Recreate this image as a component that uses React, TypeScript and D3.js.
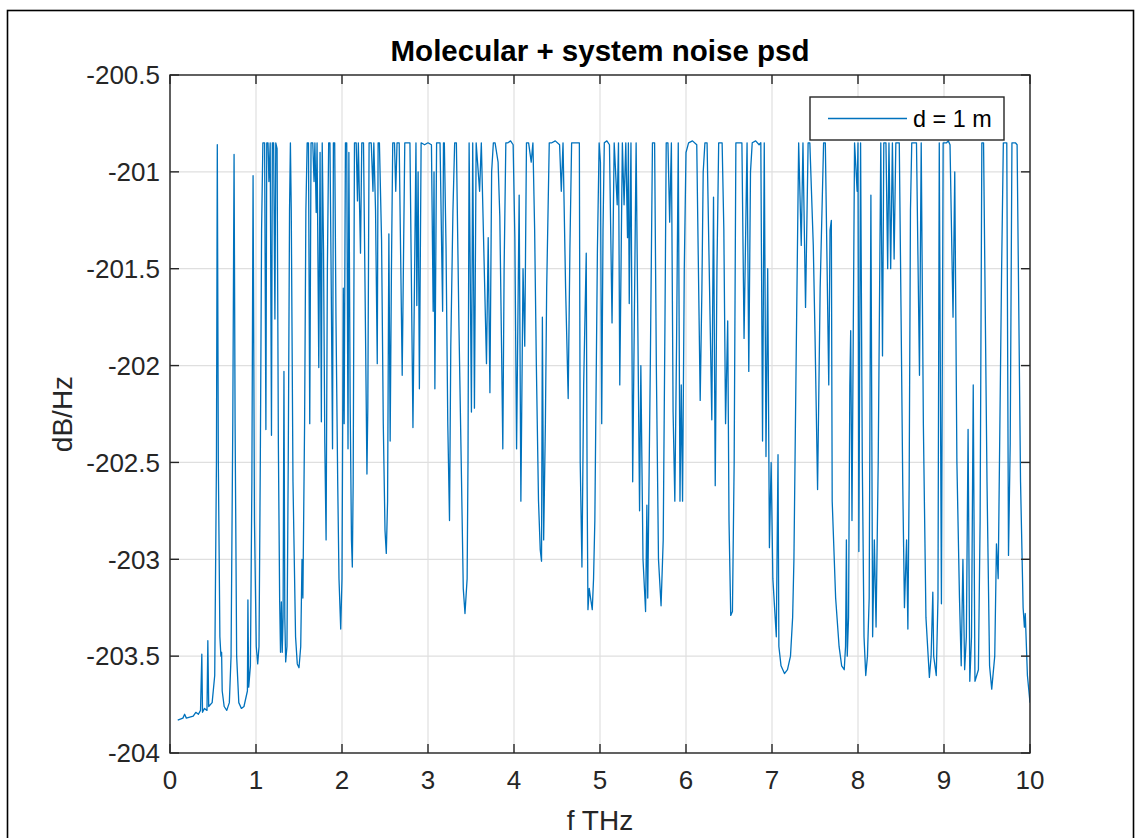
import React from "react";
import * as d3 from "d3";

const chartTitle = "Molecular + system noise psd";
const xLabel = "f THz";
const yLabel = "dB/Hz";
const legendLabel = "d = 1 m";
const xTicks = [0, 1, 2, 3, 4, 5, 6, 7, 8, 9, 10];
const yTicks = [-204, -203.5, -203, -202.5, -202, -201.5, -201, -200.5];

// [frequency THz, psd dB/Hz]
const psdPoints: [number, number][] = [
  [0.09,-203.83],[0.15,-203.82],[0.17,-203.8],[0.19,-203.82],[0.27,-203.81],[0.3,-203.79],[0.33,-203.8],[0.355,-203.78],[0.37,-203.49],[0.378,-203.79],[0.4,-203.77],[0.43,-203.78],[0.44,-203.42],[0.45,-203.76],[0.49,-203.74],[0.52,-203.6],[0.54,-202.5],[0.55,-200.86],[0.562,-202.5],[0.58,-203.4],[0.592,-203.5],[0.6,-203.48],[0.607,-203.68],[0.63,-203.76],[0.66,-203.78],[0.69,-203.74],[0.71,-203.5],[0.73,-202.3],[0.745,-200.91],[0.757,-202.3],[0.775,-203.5],[0.8,-203.74],[0.83,-203.77],[0.86,-203.76],[0.88,-203.72],[0.9,-203.68],[0.906,-203.21],[0.915,-203.66],[0.935,-203.55],[0.952,-202.6],[0.966,-201.02],[0.982,-202.8],[1.003,-203.45],[1.02,-203.54],[1.035,-203.45],[1.05,-202.5],[1.065,-201.3],[1.08,-200.85],
  [1.1,-200.85],[1.115,-202.33],[1.125,-200.85],[1.14,-200.85],[1.15,-201.05],[1.165,-200.85],[1.18,-202.36],[1.19,-200.85],[1.205,-200.85],[1.22,-201.76],[1.23,-200.85],[1.245,-200.88],[1.26,-202.4],[1.275,-203.21],[1.285,-203.48],[1.295,-203.22],[1.305,-203.48],[1.315,-203.3],[1.325,-202.03],[1.335,-203.3],[1.345,-203.53],[1.36,-203.45],[1.375,-202.5],[1.39,-201.2],[1.4,-200.85],[1.41,-201.2],[1.43,-202.6],[1.46,-203.4],[1.48,-203.54],[1.5,-203.56],[1.52,-203.45],[1.535,-203.0],[1.545,-203.2],[1.565,-202.3],[1.58,-201.2],[1.595,-200.85],
  [1.61,-200.85],[1.625,-202.3],[1.64,-200.85],[1.66,-200.85],[1.675,-201.05],[1.685,-200.85],[1.7,-201.21],[1.71,-200.85],[1.73,-202.01],[1.745,-200.9],[1.76,-202.29],[1.77,-200.85],[1.785,-201.4],[1.8,-202.4],[1.815,-202.9],[1.83,-201.5],[1.845,-200.85],[1.86,-200.85],[1.875,-201.6],[1.89,-202.43],[1.9,-200.85],[1.915,-200.85],[1.93,-201.76],[1.95,-202.6],[1.965,-203.1],[1.985,-203.36],[2.0,-203.1],[2.015,-201.6],[2.025,-202.3],[2.04,-200.85],[2.055,-200.85],[2.07,-202.43],[2.08,-200.9],[2.095,-202.2],[2.11,-202.9],[2.12,-203.04],[2.13,-202.6],[2.145,-200.85],[2.165,-200.85],[2.18,-201.15],[2.19,-200.85],[2.215,-201.42],[2.23,-200.85],[2.25,-200.85],[2.275,-201.9],[2.29,-202.56],[2.3,-202.22],[2.315,-200.85],[2.34,-200.85],[2.36,-201.1],[2.37,-200.85],[2.39,-201.2],[2.41,-201.99],[2.42,-200.85],[2.435,-200.85],[2.46,-201.35],[2.48,-202.3],[2.5,-202.85],[2.515,-202.97],[2.53,-202.7],[2.545,-201.32],[2.56,-202.39],[2.575,-201.5],[2.59,-200.85],[2.61,-200.85],[2.625,-201.1],[2.64,-200.85],[2.665,-200.85],[2.7,-202.05],[2.73,-200.85],[2.75,-200.85],[2.79,-200.85],[2.825,-202.32],[2.86,-200.85],[2.87,-201.69],[2.885,-201.0],[2.9,-202.12],[2.92,-200.85],
  [2.96,-200.86],[3.0,-200.85],[3.04,-200.86],[3.06,-201.72],[3.07,-201.0],[3.08,-202.12],[3.1,-200.85],[3.14,-200.85],[3.17,-201.72],[3.18,-200.85],[3.19,-200.85],[3.21,-201.4],[3.23,-202.3],[3.25,-202.8],[3.265,-201.9],[3.29,-201.2],[3.31,-200.85],[3.33,-200.85],[3.36,-201.8],[3.39,-202.6],[3.41,-203.15],[3.43,-203.28],[3.455,-203.1],[3.465,-202.5],[3.478,-200.85],[3.505,-202.24],[3.52,-200.85],[3.54,-202.22],[3.56,-200.85],[3.6,-201.1],[3.62,-200.85],[3.68,-201.99],[3.7,-201.34],[3.72,-202.14],[3.74,-201.0],[3.76,-200.85],[3.78,-200.85],[3.815,-200.95],[3.835,-201.23],[3.855,-201.9],[3.87,-202.43],[3.885,-201.5],[3.905,-200.85],[3.93,-200.85],[3.96,-200.84],[3.99,-200.86],[4.01,-201.34],[4.03,-202.43],[4.06,-201.12],[4.08,-202.7],[4.105,-201.5],[4.125,-201.9],[4.145,-200.85],[4.17,-200.85],[4.2,-200.95],[4.22,-200.85],[4.24,-201.3],[4.26,-202.0],[4.285,-202.7],[4.305,-202.95],[4.32,-203.01],[4.33,-201.75],[4.345,-202.9],[4.365,-202.3],[4.38,-201.6],[4.41,-200.85],[4.44,-200.85],[4.48,-200.84],[4.53,-200.86],[4.55,-201.1],[4.57,-200.85],[4.6,-201.6],[4.63,-202.17],[4.65,-201.4],[4.67,-200.85],[4.71,-200.85],[4.76,-200.85],[4.77,-202.5],[4.79,-203.04],[4.81,-202.1],[4.84,-201.42],[4.85,-202.6],[4.86,-203.26],[4.875,-203.15],[4.89,-203.2],[4.91,-203.26],[4.925,-203.1],[4.94,-202.8],[4.97,-201.4],[4.99,-200.85],
  [5.005,-200.95],[5.02,-202.3],[5.035,-201.3],[5.05,-200.85],[5.08,-200.84],[5.11,-200.86],[5.14,-201.78],[5.165,-200.85],[5.2,-201.17],[5.215,-200.85],[5.23,-202.1],[5.26,-200.85],[5.28,-201.17],[5.3,-200.85],[5.32,-201.34],[5.33,-200.85],[5.34,-201.68],[5.36,-200.85],[5.38,-202.6],[5.42,-200.85],[5.46,-202.75],[5.475,-202.0],[5.5,-203.0],[5.53,-203.27],[5.545,-202.72],[5.555,-203.2],[5.585,-202.0],[5.61,-200.85],[5.635,-200.85],[5.655,-202.0],[5.68,-203.0],[5.71,-203.24],[5.735,-202.9],[5.755,-201.8],[5.77,-200.85],[5.79,-200.85],[5.81,-201.26],[5.83,-200.85],[5.85,-202.24],[5.87,-202.7],[5.89,-201.9],[5.91,-200.85],[5.93,-202.7],[5.945,-202.1],[5.96,-202.7],[5.98,-201.5],[6.0,-200.9],[6.03,-200.85],[6.075,-200.84],[6.125,-200.86],[6.165,-202.18],[6.185,-201.6],[6.2,-201.0],[6.22,-200.85],[6.245,-200.85],[6.3,-202.28],[6.32,-201.13],[6.34,-202.62],[6.36,-201.5],[6.38,-200.85],[6.42,-200.85],[6.44,-201.3],[6.46,-202.3],[6.485,-201.77],[6.5,-202.8],[6.52,-203.29],[6.54,-203.27],[6.56,-202.5],[6.58,-200.85],[6.62,-200.85],[6.65,-200.85],[6.675,-201.86],[6.71,-200.85],[6.73,-202.03],[6.75,-201.0],[6.77,-200.85],[6.81,-200.84],[6.85,-200.86],[6.87,-200.85],[6.89,-202.39],[6.91,-200.85],[6.93,-202.47],[6.95,-201.5],[6.97,-202.94],[6.99,-202.5],
  [7.01,-203.1],[7.05,-203.4],[7.07,-202.46],[7.08,-203.45],[7.105,-203.55],[7.145,-203.59],[7.18,-203.57],[7.215,-203.5],[7.24,-203.3],[7.255,-203.0],[7.28,-202.0],[7.31,-200.85],[7.34,-201.38],[7.36,-200.85],[7.39,-201.7],[7.42,-200.85],[7.44,-200.85],[7.48,-201.38],[7.5,-201.84],[7.53,-202.64],[7.56,-201.6],[7.6,-200.85],[7.62,-200.85],[7.66,-202.1],[7.675,-201.3],[7.69,-201.25],[7.7,-202.7],[7.74,-203.2],[7.78,-203.45],[7.81,-203.55],[7.84,-203.57],[7.855,-203.45],[7.865,-202.9],[7.875,-203.5],[7.89,-203.3],[7.905,-202.1],[7.915,-201.82],[7.93,-202.8],[7.96,-200.85],[7.99,-201.1],[8.0,-200.85],[8.01,-202.96],[8.03,-200.85],[8.05,-202.5],[8.07,-203.4],[8.09,-203.6],[8.11,-203.5],[8.13,-203.2],[8.15,-201.12],[8.17,-203.4],[8.19,-202.9],[8.21,-203.35],[8.235,-202.5],[8.265,-200.85],[8.285,-201.95],[8.3,-200.85],[8.325,-200.85],[8.345,-201.5],[8.36,-200.85],[8.38,-201.5],[8.4,-200.85],[8.42,-201.45],[8.44,-200.85],[8.48,-200.85],[8.5,-201.7],[8.52,-202.6],[8.54,-203.25],[8.565,-202.9],[8.58,-203.36],[8.595,-202.6],[8.61,-201.2],[8.625,-200.85],[8.68,-200.85],[8.715,-202.05],[8.735,-200.85],[8.76,-202.3],[8.79,-203.3],[8.83,-203.61],[8.85,-203.5],[8.87,-203.17],[8.88,-203.5],[8.91,-203.6],[8.93,-203.2],[8.945,-200.85],[8.97,-203.23],[8.99,-200.85],
  [9.03,-200.85],[9.05,-200.84],[9.07,-200.86],[9.105,-201.75],[9.125,-201.0],[9.15,-202.5],[9.18,-203.2],[9.2,-203.55],[9.22,-203.0],[9.24,-203.57],[9.26,-203.4],[9.28,-202.33],[9.3,-203.63],[9.32,-203.4],[9.34,-202.1],[9.36,-203.63],[9.38,-203.6],[9.4,-203.57],[9.42,-202.8],[9.44,-200.85],[9.46,-200.85],[9.5,-202.6],[9.53,-203.55],[9.555,-203.67],[9.59,-203.5],[9.61,-202.92],[9.63,-203.1],[9.67,-201.5],[9.69,-200.85],[9.73,-200.85],[9.75,-202.98],[9.77,-202.4],[9.79,-200.85],[9.83,-200.85],[9.85,-200.86],[9.89,-202.6],[9.92,-203.25],[9.935,-203.35],[9.945,-203.28],[9.97,-203.6],[10.0,-203.74]
];

const W = 1137;
const H = 838;
const M = { left: 170, right: 1030, top: 75, bottom: 753 };
const AXC = "#262626";
const LINE = "#0072BD";
const FONT = "'Liberation Sans', Arial, Helvetica, sans-serif";

export default function App() {
  const x = d3.scaleLinear().domain([0, 10]).range([M.left, M.right]);
  const y = d3.scaleLinear().domain([-204, -200.5]).range([M.bottom, M.top]);
  const line = d3
    .line<[number, number]>()
    .x((d) => x(d[0]))
    .y((d) => y(d[1]));
  const tickLen = 9;
  const legend = { x: 810, y: 97, w: 194, h: 43 };

  return (
    <svg
      width={W}
      height={H}
      style={{ position: "absolute", left: 0, top: 0, background: "#fff" }}
      fontFamily={FONT}
    >
      <rect x={0} y={0} width={W} height={H} fill="#fff" />
      <rect x={7.5} y={10.5} width={1126} height={900} fill="none" stroke="#000" strokeWidth={1.6} />
      <defs>
        <clipPath id="plotclip">
          <rect x={M.left} y={M.top} width={M.right - M.left} height={M.bottom - M.top} />
        </clipPath>
      </defs>
      {/* grid */}
      {xTicks.map((t) => (
        <line key={"gx" + t} x1={x(t)} x2={x(t)} y1={M.top} y2={M.bottom} stroke="#dfdfdf" strokeWidth={1.2} />
      ))}
      {yTicks.map((t) => (
        <line key={"gy" + t} x1={M.left} x2={M.right} y1={y(t)} y2={y(t)} stroke="#dfdfdf" strokeWidth={1.2} />
      ))}
      {/* data */}
      <path
        d={line(psdPoints) || ""}
        fill="none"
        stroke={LINE}
        strokeWidth={1.3}
        strokeLinejoin="round"
        clipPath="url(#plotclip)"
      />
      {/* axes box */}
      <rect
        x={M.left}
        y={M.top}
        width={M.right - M.left}
        height={M.bottom - M.top}
        fill="none"
        stroke={AXC}
        strokeWidth={1.4}
      />
      {xTicks.map((t) => (
        <g key={"tx" + t}>
          <line x1={x(t)} x2={x(t)} y1={M.bottom} y2={M.bottom - tickLen} stroke={AXC} strokeWidth={1.4} />
          <line x1={x(t)} x2={x(t)} y1={M.top} y2={M.top + tickLen} stroke={AXC} strokeWidth={1.4} />
          <text x={x(t)} y={789} textAnchor="middle" fontSize={26} fill={AXC}>
            {String(t)}
          </text>
        </g>
      ))}
      {yTicks.map((t) => (
        <g key={"ty" + t}>
          <line x1={M.left} x2={M.left + tickLen} y1={y(t)} y2={y(t)} stroke={AXC} strokeWidth={1.4} />
          <line x1={M.right} x2={M.right - tickLen} y1={y(t)} y2={y(t)} stroke={AXC} strokeWidth={1.4} />
          <text x={160} y={y(t) + 9.3} textAnchor="end" fontSize={26} fill={AXC}>
            {String(t)}
          </text>
        </g>
      ))}
      <text x={(M.left + M.right) / 2} y={61} textAnchor="middle" fontSize={29.5} fontWeight="bold" fill="#000">
        {chartTitle}
      </text>
      <text x={(M.left + M.right) / 2} y={830} textAnchor="middle" fontSize={28} fill={AXC}>
        {xLabel}
      </text>
      <text
        transform={`translate(72,${(M.top + M.bottom) / 2}) rotate(-90)`}
        textAnchor="middle"
        fontSize={28}
        fill={AXC}
      >
        {yLabel}
      </text>
      {/* legend */}
      <rect x={legend.x} y={legend.y} width={legend.w} height={legend.h} fill="#fff" stroke={AXC} strokeWidth={1.4} />
      <line x1={828} x2={907} y1={118.5} y2={118.5} stroke={LINE} strokeWidth={1.3} />
      <text x={913} y={127} fontSize={23.4} fill="#000">
        {legendLabel}
      </text>
    </svg>
  );
}
